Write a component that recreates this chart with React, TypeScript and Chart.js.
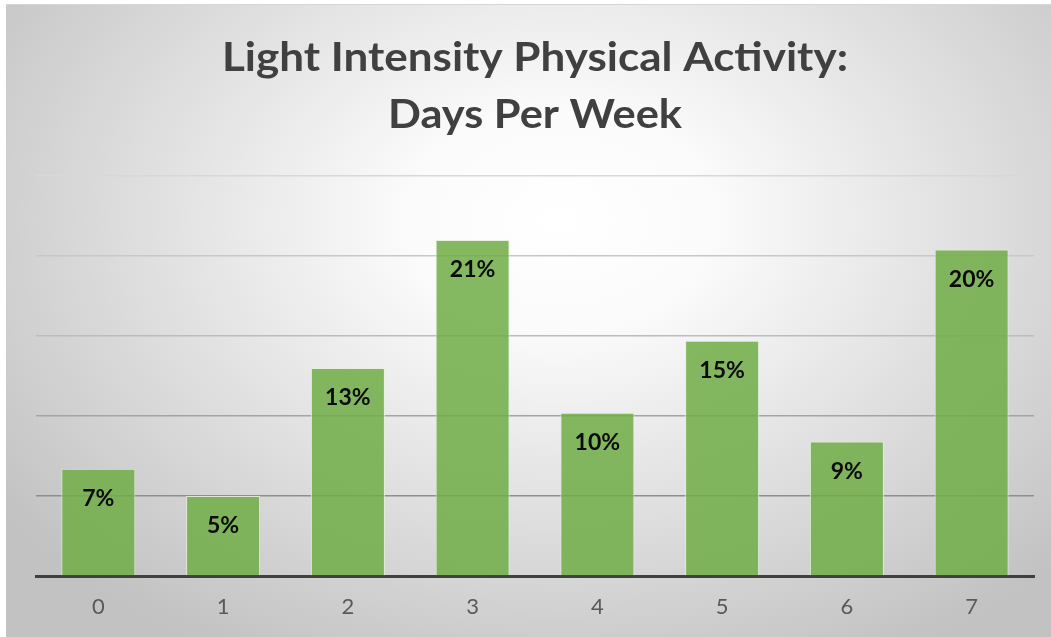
import React, { useEffect, useRef } from "react";
import { Chart, registerables } from "chart.js";

Chart.register(...registerables);

// ---- data ----
const titleLines = ["Light Intensity Physical Activity:", "Days Per Week"];
const categories = ["0", "1", "2", "3", "4", "5", "6", "7"];
const values = [6.7, 5.0, 13.0, 21.0, 10.2, 14.7, 8.4, 20.4];
const valueLabels = ["7%", "5%", "13%", "21%", "10%", "15%", "9%", "20%"];
const yMin = 0;
const yMax = 25;
const yStep = 5;

// ---- styles ----
const W = 1051;
const H = 637;
const gridColorByValue: Record<number, string> = {
  0: "rgba(0,0,0,0)",
  5: "#8e8e8e",
  10: "#a4a4a4",
  15: "#bcbcbc",
  20: "#c8c8c8",
  25: "#d8d8d8",
};

const titlePlugin = {
  id: "customTitle",
  afterDraw(chart: any) {
    const ctx = chart.ctx as CanvasRenderingContext2D;
    const cx = (chart.chartArea.left + chart.chartArea.right) / 2;
    const baselines = [71, 127.5];
    const targets = [626, 294];
    ctx.save();
    ctx.fillStyle = "#404040";
    ctx.font = "bold 41px Lato";
    ctx.textAlign = "center";
    ctx.textBaseline = "alphabetic";
    titleLines.forEach((line, i) => {
      const natural = ctx.measureText(line).width;
      const sx = targets[i] / natural;
      ctx.save();
      ctx.translate(cx, baselines[i]);
      ctx.scale(sx, 1);
      ctx.fillText(line, 0, 0);
      ctx.restore();
    });
    ctx.restore();
  },
};

const labelPlugin = {
  id: "barLabels",
  afterDatasetsDraw(chart: any) {
    const ctx = chart.ctx as CanvasRenderingContext2D;
    const meta = chart.getDatasetMeta(0);
    ctx.save();
    ctx.fillStyle = "#0a0a0a";
    ctx.font = "bold 23px Lato";
    ctx.textAlign = "center";
    ctx.textBaseline = "alphabetic";
    meta.data.forEach((el: any, i: number) => {
      ctx.fillText(valueLabels[i], el.x, el.y + 37);
    });
    ctx.restore();
  },
};

export default function App() {
  const ref = useRef<HTMLCanvasElement | null>(null);

  useEffect(() => {
    let chart: Chart | null = null;
    let cancelled = false;
    const make = () => {
      if (cancelled || !ref.current) return;
      chart = new Chart(ref.current, {
        type: "bar",
        data: {
          labels: categories,
          datasets: [
            {
              data: values,
              backgroundColor: "rgba(112,173,71,0.86)",
              borderColor: "rgba(226,239,218,0.9)",
              borderWidth: 1,
              barPercentage: 0.593,
              categoryPercentage: 1,
            },
          ],
        },
        options: {
          responsive: false,
          animation: false,
          maintainAspectRatio: false,
          layout: { padding: { left: 36, right: 17, top: 176, bottom: 0 } },
          plugins: {
            legend: { display: false },
            title: { display: false },
            tooltip: { enabled: false },
          },
          scales: {
            x: {
              z: 1,
              offset: true,
              grid: { display: false, drawTicks: false },
              border: { display: true, color: "#404040", width: 3 },
              ticks: {
                color: "#595959",
                font: { family: "Lato", size: 22 },
                padding: 18,
                maxRotation: 0,
              },
              afterFit: (scale: any) => {
                scale.height = 61;
              },
            },
            y: {
              min: yMin,
              max: yMax,
              ticks: { display: false, stepSize: yStep },
              border: { display: false },
              grid: {
                drawTicks: false,
                lineWidth: 1.5,
                color: (c: any) => gridColorByValue[c.tick?.value] ?? "#c0c0c0",
              },
              afterFit: (scale: any) => {
                scale.width = 0;
              },
            },
          },
        },
        plugins: [titlePlugin, labelPlugin],
      });
    };
    const fonts = (document as any).fonts;
    if (fonts && fonts.load) {
      Promise.all([
        fonts.load("bold 41px Lato"),
        fonts.load("bold 23px Lato"),
        fonts.load("22px Lato"),
      ])
        .catch(() => null)
        .then(make);
    } else {
      make();
    }
    return () => {
      cancelled = true;
      if (chart) chart.destroy();
    };
  }, []);

  return (
    <div
      style={{
        position: "fixed",
        left: 0,
        top: 0,
        width: W,
        height: H,
        background: "#ffffff",
        overflow: "hidden",
      }}
    >
      <div
        style={{
          position: "absolute",
          left: 6,
          top: 4,
          right: 0,
          bottom: 0,
          borderTop: "1px solid #d6d6d6",
          background:
            "radial-gradient(ellipse 66% 78% at 53% 34%, #ffffff 0%, #fbfbfb 22%, #c2c2c2 100%)",
        }}
      />
      <canvas
        ref={ref}
        width={W}
        height={H}
        style={{ position: "absolute", left: 0, top: 0, width: W, height: H }}
      />
    </div>
  );
}
